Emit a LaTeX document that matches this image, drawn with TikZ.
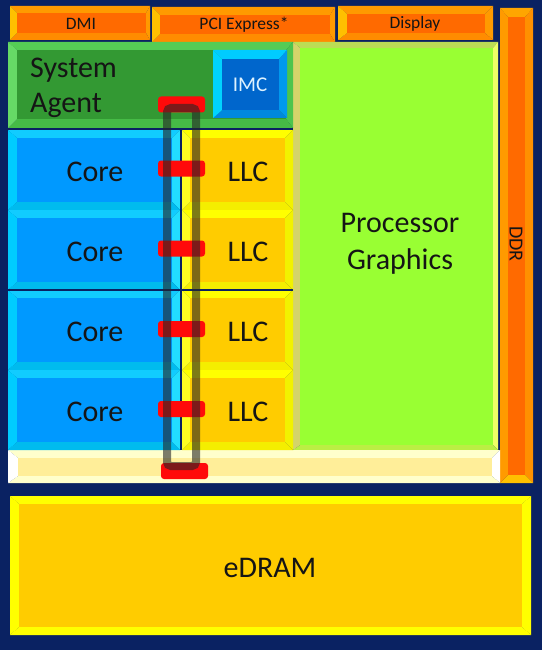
\documentclass[tikz,border=0pt]{standalone}
\usepackage{fontspec}
\setmainfont{Carlito}
\definecolor{bg}{HTML}{0A2262}
\definecolor{ink}{HTML}{151515}
% orange top bars
\definecolor{obT}{HTML}{FF9A00}\definecolor{obR}{HTML}{FF9A00}\definecolor{obB}{HTML}{FF8C00}\definecolor{obL}{HTML}{FFC000}\definecolor{obI}{HTML}{FF6A00}
% DDR
\definecolor{ddT}{HTML}{FFA500}\definecolor{ddR}{HTML}{FF9000}\definecolor{ddB}{HTML}{FFC000}\definecolor{ddL}{HTML}{FF9A00}\definecolor{ddI}{HTML}{FF6A00}
% system agent
\definecolor{saT}{HTML}{55CC55}\definecolor{saR}{HTML}{4DC44D}\definecolor{saB}{HTML}{46BB46}\definecolor{saL}{HTML}{66D966}\definecolor{saI}{HTML}{339933}
% IMC
\definecolor{imT}{HTML}{00CCFF}\definecolor{imR}{HTML}{0099EE}\definecolor{imB}{HTML}{0088DD}\definecolor{imL}{HTML}{00D4FF}\definecolor{imI}{HTML}{0066CC}
% core
\definecolor{coT}{HTML}{11CCFF}\definecolor{coR}{HTML}{22DDFF}\definecolor{coB}{HTML}{00BBEE}\definecolor{coL}{HTML}{00CCFF}\definecolor{coI}{HTML}{0099FF}
% LLC
\definecolor{llT}{HTML}{FFFF00}\definecolor{llR}{HTML}{F2F200}\definecolor{llB}{HTML}{F4EE00}\definecolor{llL}{HTML}{FFFF22}\definecolor{llI}{HTML}{FFCC00}
% graphics
\definecolor{grT}{HTML}{BBDD55}\definecolor{grR}{HTML}{EEFF66}\definecolor{grB}{HTML}{BBEE44}\definecolor{grL}{HTML}{D4D46A}\definecolor{grI}{HTML}{99FF33}
% bottom bar
\definecolor{bbT}{HTML}{FFFFCC}\definecolor{bbR}{HTML}{FFFFFF}\definecolor{bbB}{HTML}{FFFFCC}\definecolor{bbL}{HTML}{FFFFFF}\definecolor{bbI}{HTML}{FFEE99}
% eDRAM
\definecolor{edT}{HTML}{FFFF00}\definecolor{edR}{HTML}{FFFF00}\definecolor{edB}{HTML}{FFFF00}\definecolor{edL}{HTML}{FFFF00}\definecolor{edI}{HTML}{FFCC00}
\definecolor{stopred}{HTML}{FF0A0A}
\definecolor{imctext}{HTML}{DDF2FF}

\newcommand\bev[9]{%
  \fill[fill=#9T] (#1,#2) -- (#3,#2) -- (#7,#6) -- (#5,#6) -- cycle;
  \fill[fill=#9R] (#3,#2) -- (#3,#4) -- (#7,#8) -- (#7,#6) -- cycle;
  \fill[fill=#9B] (#3,#4) -- (#1,#4) -- (#5,#8) -- (#7,#8) -- cycle;
  \fill[fill=#9L] (#1,#4) -- (#1,#2) -- (#5,#6) -- (#5,#8) -- cycle;
  \fill[fill=#9I] (#5,#6) rectangle (#7,#8);
}

\tikzset{
  lbl/.style={text=ink, inner sep=0pt, font=\fontsize{30}{35}\selectfont},
  barlbl/.style={text=ink, inner sep=0pt, font=\fontsize{17.5}{19}\selectfont},
  stopbox/.style={fill=stopred, rounded corners=3pt, minimum width=47pt, minimum height=16pt, inner sep=0pt},
  ringline/.style={draw=black!85, line width=8pt, rounded corners=4pt, opacity=0.6},
  divider/.style={draw=bg, line width=1.2pt}
}

\begin{document}
\begin{tikzpicture}[x=1pt,y=-1pt]
\useasboundingbox (0,0) rectangle (542,650);
\fill[bg] (0,0) rectangle (542,650);

% top interface bars
\bev{10}{6}{150}{40}{17}{13}{146}{33}{ob}
\bev{152}{7}{335}{42}{160}{15}{330}{34}{ob}
\bev{338}{6}{493}{40}{347}{14}{485}{33}{ob}
% DDR
\bev{500}{8}{533}{483}{508}{17}{525}{475}{dd}

% processor graphics
\bev{293}{42}{498}{450}{300}{48}{493}{445}{gr}
% bottom bar
\bev{8}{450}{500}{483}{18}{458}{492}{476}{bb}

% system agent
\bev{8}{42}{293}{128}{17}{50}{286}{119}{sa}
\bev{213}{50}{287}{118}{222}{59}{279}{110}{im}

% cores and LLC slices
\bev{8}{130}{180}{210}{17}{138}{172}{202}{co}
\bev{8}{210}{180}{290}{17}{218}{172}{282}{co}
\bev{8}{290}{180}{370}{17}{298}{172}{362}{co}
\bev{8}{370}{180}{450}{17}{378}{172}{442}{co}
\bev{182}{130}{293}{210}{190}{138}{285}{202}{ll}
\bev{182}{210}{293}{290}{190}{218}{285}{282}{ll}
\bev{182}{290}{293}{370}{190}{298}{285}{362}{ll}
\bev{182}{370}{293}{450}{190}{378}{285}{442}{ll}

% dividers
\draw[divider] (8,129) -- (293,129);
\draw[divider] (8,290) -- (293,290);
\draw[divider] (181,129) -- (181,450);

% eDRAM
\bev{10}{496}{531}{635}{19}{504}{522}{627}{ed}

% ring stops
\node[stopbox] (stopSA) at (181.5,104.5) {};
\node[stopbox] (stop1) at (181.5,168.5) {};
\node[stopbox] (stop2) at (181.5,248.5) {};
\node[stopbox] (stop3) at (181.5,329) {};
\node[stopbox] (stop4) at (181.5,409) {};
\node[stopbox] (stopG) at (184.5,471) {};
% ring bus
\draw[ringline] (167,108) rectangle (196,466);

% labels
\node[barlbl] (dmi) at (81,24) {DMI};
\node[barlbl] (pcie) at (244,25) {PCI Express*};
\node[barlbl] (disp) at (415,24) {Display};
\node[barlbl, font=\fontsize{20}{22}\selectfont, rotate=-90] (ddr) at (516,244) {DDR};
\node[lbl, anchor=west, align=left] (sa) at (30,88) {System\\Agent};
\node[lbl, text=imctext, font=\fontsize{21}{23}\selectfont] (imc) at (250,85) {IMC};
\node[lbl] (core1) at (95,172) {Core};
\node[lbl] (core2) at (95,252) {Core};
\node[lbl] (core3) at (95,332) {Core};
\node[lbl] (core4) at (95,412) {Core};
\node[lbl] (llc1) at (248,172) {LLC};
\node[lbl] (llc2) at (248,252) {LLC};
\node[lbl] (llc3) at (248,332) {LLC};
\node[lbl] (llc4) at (248,412) {LLC};
\node[lbl, align=center, font=\fontsize{30}{37}\selectfont] (gfx) at (400,244) {Processor\\Graphics};
\node[lbl] (edram) at (270,568) {eDRAM};
\end{tikzpicture}
\end{document}
